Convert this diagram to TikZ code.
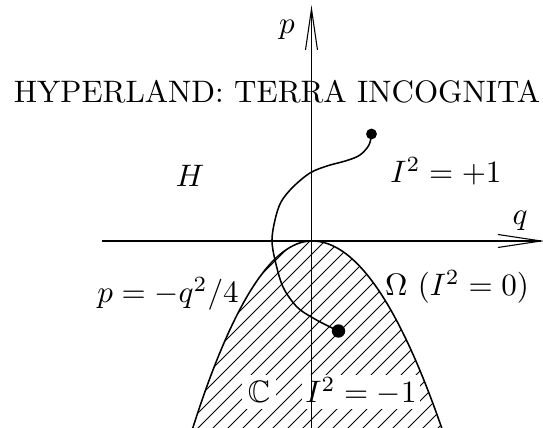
\documentclass[tikz,border=0pt]{standalone}
\usepackage{amssymb}
\begin{document}
\begin{tikzpicture}[x=0.322pt,y=-0.322pt,
  axis/.style={line width=0.35pt},
  curve/.style={line width=0.5pt},
  hatchline/.style={line width=0.3pt},
  lbl/.style={inner sep=0pt,anchor=base},
  dot/.style={circle,fill=black,inner sep=0pt}]
\clip (0,0) rectangle (543,428);
% hatching inside the parabola
\begin{scope}
  \clip plot[domain=14:0,samples=60,variable=\t] ({312-8.718*\t},{241+\t*\t})
     -- plot[domain=0:14,samples=60,variable=\t] ({312+9.487*\t},{241+\t*\t}) -- cycle;
  \foreach \c in {431,446,...,880} {
    \draw[hatchline] ({\c-241},241) -- ({\c-430},430);
  }
\end{scope}
% labels in the hatched region
\node[lbl,fill=white,inner sep=2pt] (cc) at (259,403) {$\mathbb{C}$};
\node[lbl,fill=white,inner sep=1pt] (im) at (361,403) {$I^2=-1$};
% parabola
\draw[curve] plot[domain=14:0,samples=60,variable=\t] ({312-8.718*\t},{241+\t*\t})
     -- plot[domain=0:14,samples=60,variable=\t] ({312+9.487*\t},{241+\t*\t});
% axes
\coordinate (qs) at (102,241);
\coordinate (qt) at (541,241);
\coordinate (qa) at (498,234.5);
\coordinate (qb) at (498,247.5);
\coordinate (ps) at (311.5,430);
\coordinate (pt) at (311.5,9);
\coordinate (pa) at (305.5,50);
\coordinate (pb) at (317.5,50);
\draw[axis] (qs) -- (qt);
\draw[axis] (qa) -- (qt) -- (qb);
\draw[axis] (ps) -- (pt);
\draw[axis] (pa) -- (pt) -- (pb);
% labels
\node[lbl] (plab) at (287,34) {$p$};
\node[lbl] (qlab) at (520,225) {$q$};
\node[lbl] (title) at (277,103) {HYPERLAND: TERRA INCOGNITA};
\node[lbl] (hlab) at (190,187) {$H$};
\node[lbl] (ip) at (446,183) {$I^2=+1$};
\node[lbl] (par) at (168,303) {$p=-q^2/4$};
\node[lbl] (om) at (457,296) {$\Omega\ (I^2=0)$};
% path with end points
\node[dot,minimum size=3.5pt] (d1) at (371.5,134) {};
\node[dot,minimum size=4.3pt] (d2) at (338.5,331) {};
\draw[curve] plot[smooth,tension=0.55] coordinates {(d1.center) (369,145) (360,155) (347,160.5) (327,166) (310,173) (293,187) (281,202) (275,220) (272,240) (275,260) (283,287) (297,307) (313,318) (330,327) (d2.center)};
\end{tikzpicture}
\end{document}
